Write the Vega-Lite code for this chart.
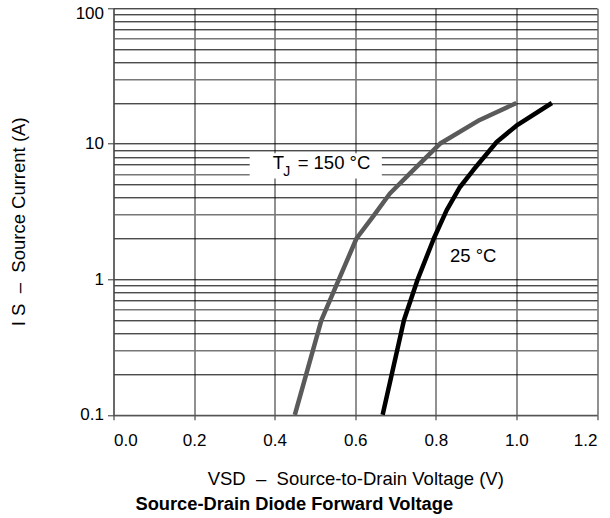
{
  "$schema": "https://vega.github.io/schema/vega-lite/v6.json",
  "width": 483.5,
  "height": 406.5,
  "autosize": {"type": "none"},
  "padding": {"left": 113.5, "top": 8.3, "right": 13, "bottom": 103.2},
  "background": "white",
  "config": {
    "font": "Liberation Sans",
    "view": {"stroke": null},
    "axis": {"labelFont": "Liberation Sans", "titleFont": "Liberation Sans", "labelColor": "#000", "titleColor": "#000"}
  },
  "title": {
    "text": "Source-Drain Diode Forward Voltage",
    "orient": "bottom",
    "anchor": "middle",
    "frame": "group",
    "dx": -61,
    "offset": 8,
    "fontSize": 18.3,
    "fontWeight": "bold",
    "font": "Liberation Sans",
    "color": "#000"
  },
  "datasets": {
    "curves": [
      {"T": "150", "V": 0.45, "I": 0.1},
      {"T": "150", "V": 0.516, "I": 0.5},
      {"T": "150", "V": 0.603, "I": 2},
      {"T": "150", "V": 0.644, "I": 2.9},
      {"T": "150", "V": 0.686, "I": 4.3},
      {"T": "150", "V": 0.744, "I": 6.4},
      {"T": "150", "V": 0.81, "I": 10},
      {"T": "150", "V": 0.909, "I": 15},
      {"T": "150", "V": 1.0, "I": 20},
      {"T": "25", "V": 0.668, "I": 0.1},
      {"T": "25", "V": 0.721, "I": 0.5},
      {"T": "25", "V": 0.755, "I": 1},
      {"T": "25", "V": 0.795, "I": 2},
      {"T": "25", "V": 0.827, "I": 3.24},
      {"T": "25", "V": 0.86, "I": 4.8},
      {"T": "25", "V": 0.893, "I": 6.4},
      {"T": "25", "V": 0.951, "I": 10.3},
      {"T": "25", "V": 1.0, "I": 13.6},
      {"T": "25", "V": 1.088, "I": 20}
    ],
    "box": [
      {"V": 0.338, "V2": 0.666, "I": 5.55, "I2": 8.5}
    ],
    "labels": [
      {"text": "T", "V": 0.395, "I": 7.17},
      {"text": "= 150 °C", "V": 0.457, "I": 7.17},
      {"text": "25 °C", "V": 0.835, "I": 1.48}
    ],
    "subs": [
      {"text": "J", "V": 0.421, "I": 6.21}
    ]
  },
  "encoding": {
    "x": {
      "field": "V",
      "type": "quantitative",
      "scale": {"domain": [0, 1.2], "nice": false, "zero": false},
      "axis": {
        "values": [0, 0.2, 0.4, 0.6, 0.8, 1.0, 1.2],
        "format": ".1f",
        "labelFontSize": 17,
        "labelPadding": 13,
        "tickSize": 5,
        "tickColor": "#555",
        "tickWidth": 1.3,
        "domainColor": "#555",
        "domainWidth": 1.3,
        "grid": true,
        "gridColor": "#555",
        "gridWidth": 1.3,
        "gridOpacity": 1,
        "title": "VSD\u00a0\u00a0–\u00a0\u00a0Source-to-Drain Voltage (V)",
        "titleFontSize": 18.5,
        "titleFontWeight": "normal",
        "titlePadding": 21
      }
    },
    "y": {
      "field": "I",
      "type": "quantitative",
      "scale": {"type": "log", "domain": [0.1, 100], "nice": false, "zero": false},
      "axis": {
        "values": [0.1, 0.2, 0.3, 0.4, 0.5, 0.6, 0.7, 0.8, 0.9, 1, 2, 3, 4, 5, 6, 7, 8, 9, 10, 20, 30, 40, 50, 60, 70, 80, 90, 100],
        "labelExpr": "datum.value == 0.1 ? '0.1' : datum.value == 1 ? '1' : datum.value == 10 ? '10' : datum.value == 100 ? '100' : ''",
        "labelFontSize": 17,
        "labelPadding": 4,
        "labelOffset": {"condition": {"test": "datum.value == 100", "value": 5}, "value": 0},
        "tickSize": 6,
        "tickColor": "#333",
        "tickOpacity": {"condition": {"test": "datum.value == 0.1 || datum.value == 1 || datum.value == 10 || datum.value == 100", "value": 1}, "value": 0},
        "domainColor": "#555",
        "domainWidth": 1.3,
        "grid": true,
        "gridColor": {"condition": {"test": "datum.value == 0.3 || datum.value == 0.6 || datum.value == 3 || datum.value == 6 || datum.value == 30 || datum.value == 60", "value": "#777"}, "value": "#000"},
        "gridWidth": {"condition": {"test": "datum.value == 0.3 || datum.value == 0.6 || datum.value == 3 || datum.value == 6 || datum.value == 30 || datum.value == 60", "value": 1.6}, "value": 1},
        "gridOpacity": 1,
        "title": "I\u00a0S\u00a0\u00a0–\u00a0\u00a0Source Current (A)",
        "titleFontSize": 18.5,
        "titleFontWeight": "normal",
        "titlePadding": 47,
        "titleY": 213
      }
    }
  },
  "layer": [
    {
      "data": {"name": "box"},
      "mark": {"type": "rect", "fill": "white", "stroke": null},
      "encoding": {
        "x2": {"field": "V2"},
        "y2": {"field": "I2"}
      }
    },
    {
      "data": {"name": "curves"},
      "mark": {"type": "line", "strokeWidth": 4.5, "strokeJoin": "round", "strokeCap": "butt"},
      "encoding": {
        "color": {
          "field": "T",
          "type": "nominal",
          "scale": {"domain": ["150", "25"], "range": ["#5a5a5a", "#000000"]},
          "legend": null
        },
        "order": {"field": "V", "type": "quantitative"}
      }
    },
    {
      "data": {"name": "labels"},
      "mark": {"type": "text", "align": "left", "baseline": "middle", "fontSize": 18.5, "font": "Liberation Sans", "color": "#000"},
      "encoding": {"text": {"field": "text"}}
    },
    {
      "data": {"name": "subs"},
      "mark": {"type": "text", "align": "left", "baseline": "middle", "fontSize": 14, "font": "Liberation Sans", "color": "#000"},
      "encoding": {"text": {"field": "text"}}
    }
  ]
}
